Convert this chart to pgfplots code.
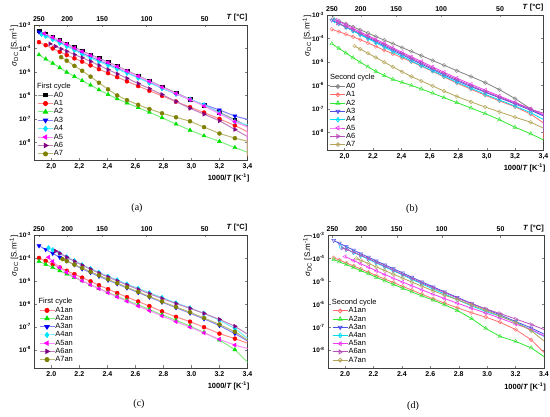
\documentclass[border=0pt]{standalone}
\usepackage{pgfplots}
\pgfplotsset{compat=1.18}
\usepackage{pgfplotstable}
\usepackage{fontspec}
\setmainfont{Liberation Sans}
\newfontfamily\capfont{Liberation Serif}

\definecolor{cRed}{RGB}{255,0,0}
\definecolor{cGreen}{RGB}{0,225,0}
\definecolor{cBlue}{RGB}{0,0,255}
\definecolor{cCyan}{RGB}{0,228,255}
\definecolor{cMag}{RGB}{255,0,255}
\definecolor{cPur}{RGB}{128,0,128}
\definecolor{cOli}{RGB}{128,128,0}
\definecolor{oGray}{RGB}{130,130,130}
\definecolor{oRed}{RGB}{255,110,110}
\definecolor{oGreen}{RGB}{50,230,50}
\definecolor{oBlue}{RGB}{80,80,230}
\definecolor{oCyan}{RGB}{0,220,240}
\definecolor{oMag}{RGB}{240,60,240}
\definecolor{oPur}{RGB}{185,80,185}
\definecolor{oOli}{RGB}{180,165,90}

\pgfplotsset{
  lA0/.style={color=black!40, line width=1pt},
  lA1/.style={color=cRed!45, line width=1pt},
  lA2/.style={color=cGreen!50, line width=1pt},
  lA3/.style={color=cBlue!50, line width=1pt},
  lA4/.style={color=cCyan!55, line width=1pt},
  lA5/.style={color=cMag!45, line width=1pt},
  lA6/.style={color=cPur!50, line width=1pt},
  lA7/.style={color=cOli!55, line width=1pt},
  mA0/.style={mark=square*, mark size=1.8pt, mark options={solid, draw=black, fill=black}},
  mA1/.style={mark=*, mark size=2pt, mark options={solid, draw=cRed, fill=cRed}},
  mA2/.style={mark=triangle*, mark size=2.3pt, mark options={solid, draw=cGreen, fill=cGreen}},
  mA3/.style={mark=triangle*, mark size=2.3pt, mark options={solid, draw=cBlue, fill=cBlue, rotate=180}},
  mA4/.style={mark=diamond*, mark size=2.4pt, mark options={solid, draw=cCyan, fill=cCyan}},
  mA5/.style={mark=triangle*, mark size=2.3pt, mark options={solid, draw=cMag, fill=cMag, rotate=90}},
  mA6/.style={mark=triangle*, mark size=2.3pt, mark options={solid, draw=cPur, fill=cPur, rotate=-90}},
  mA7/.style={mark=*, mark size=2pt, mark options={solid, draw=cOli, fill=cOli}},
  lB0/.style={color=oGray, line width=0.8pt},
  lB1/.style={color=oRed, line width=0.8pt},
  lB2/.style={color=oGreen, line width=0.8pt},
  lB3/.style={color=oBlue, line width=0.8pt},
  lB4/.style={color=oCyan, line width=0.8pt},
  lB5/.style={color=oMag, line width=0.8pt},
  lB6/.style={color=oPur, line width=0.8pt},
  lB7/.style={color=oOli, line width=0.8pt},
  mB0/.style={mark=o, mark size=1.9pt, mark options={solid, draw=oGray, fill=white}},
  mB1/.style={mark=o, mark size=1.9pt, mark options={solid, draw=oRed, fill=white}},
  mB2/.style={mark=triangle, mark size=2.2pt, mark options={solid, draw=oGreen, fill=white}},
  mB3/.style={mark=triangle, mark size=2.2pt, mark options={solid, draw=oBlue, fill=white, rotate=180}},
  mB4/.style={mark=diamond, mark size=2.3pt, mark options={solid, draw=oCyan, fill=white}},
  mB5/.style={mark=triangle, mark size=2.2pt, mark options={solid, draw=oMag, fill=white, rotate=90}},
  mB6/.style={mark=triangle, mark size=2.2pt, mark options={solid, draw=oPur, fill=white, rotate=-90}},
  mB7/.style={mark=o, mark size=1.9pt, mark options={solid, draw=oOli, fill=white}},
  mainax/.style={
    scale only axis, xmin=1.88, xmax=3.4, ymax=-3,
    clip mode=individual,
    axis line style={line width=0.5pt, black!75},
    tick align=inside, major tick length=2.5pt,
    xtick={2.0,2.2,2.4,2.6,2.8,3.0,3.2,3.4},
    xtick pos=lower,
    ytick={-8,-7,-6,-5,-4,-3}, ytick pos=both, yticklabel pos=left,
    yticklabels={10\textsuperscript{-8},10\textsuperscript{-7},10\textsuperscript{-6},10\textsuperscript{-5},10\textsuperscript{-4},10\textsuperscript{-3}},
    xticklabel style={font=\bfseries\fontsize{7}{8}\selectfont},
    yticklabel style={font=\bfseries\fontsize{6.5}{7}\selectfont},
    legend image code/.code={\draw[mark repeat=2,mark phase=2,##1] plot coordinates {(0pt,0pt) (7.5pt,0pt) (15pt,0pt)};},
    legend cell align=left,
  },
  topax/.style={
    scale only axis, xmin=1.88, xmax=3.4, ymin=0, ymax=1,
    clip=false,
    axis x line*=top, axis y line=none,
    axis line style={line width=0.5pt, black!75},
    xtick={1.9115,2.1134,2.3629,2.6799,3.0945},
    xticklabels={250,200,150,100,50},
    tick align=inside, major tick length=2.5pt,
    xticklabel style={font=\bfseries\fontsize{7}{8}\selectfont},
  },
}

\newcommand{\ser}[3]{%
  \addplot[l#2, forget plot] table {#1};
  \addplot[only marks, m#3, restrict x to domain=1.8:3.36, forget plot] table {#1};
}
\newcommand{\xlab}{\node[anchor=north east, inner sep=0pt, font=\bfseries\fontsize{7.5}{8}\selectfont] at ([yshift=-14pt, xshift=2pt]rel axis cs:1,0) {1000/\textit{T} [K\textsuperscript{-1}]};}
\newcommand{\ylab}{\node[rotate=90, anchor=south east, inner sep=0pt, font=\fontsize{8}{9}\selectfont] at ([xshift=-16pt]rel axis cs:0,1) {\textit{σ}\textsubscript{DC} [S.m\textsuperscript{-1}]};}
\newcommand{\tlab}{\node[anchor=south east, inner sep=0pt, font=\bfseries\fontsize{7.5}{8}\selectfont] at ([yshift=3.5pt]rel axis cs:1,1) {\textit{T} [°C]};}

% ---------------- panel (a): first cycle
\pgfplotstableread{
x y
1.912 -3.25
1.96 -3.38
2.01 -3.52
2.06 -3.66
2.11 -3.80
2.165 -3.95
2.22 -4.10
2.28 -4.26
2.34 -4.41
2.405 -4.58
2.47 -4.75
2.54 -4.94
2.62 -5.16
2.70 -5.38
2.79 -5.62
2.89 -5.89
2.99 -6.16
3.09 -6.42
3.20 -6.72
3.31 -7.03
3.40 -7.30
}\paA
\pgfplotstableread{
x y
1.912 -3.73
1.96 -3.86
2.01 -4.00
2.06 -4.14
2.11 -4.28
2.165 -4.42
2.22 -4.56
2.28 -4.72
2.34 -4.88
2.405 -5.05
2.47 -5.22
2.54 -5.40
2.62 -5.60
2.70 -5.80
2.79 -6.02
2.89 -6.26
2.99 -6.50
3.09 -6.73
3.20 -7.00
3.31 -7.28
3.40 -7.55
3.40 -8.60
}\paB
\pgfplotstableread{
x y
1.912 -4.27
1.96 -4.45
2.01 -4.63
2.06 -4.82
2.11 -5.01
2.165 -5.19
2.22 -5.37
2.28 -5.56
2.34 -5.76
2.405 -5.96
2.47 -6.14
2.54 -6.32
2.62 -6.52
2.70 -6.72
2.79 -6.95
2.89 -7.22
2.99 -7.48
3.09 -7.72
3.20 -7.96
3.31 -8.22
3.40 -8.42
}\paC
\pgfplotstableread{
x y
1.912 -3.30
1.96 -3.44
2.01 -3.59
2.06 -3.74
2.11 -3.88
2.165 -4.04
2.22 -4.20
2.28 -4.36
2.34 -4.51
2.405 -4.68
2.47 -4.84
2.54 -5.03
2.62 -5.24
2.70 -5.45
2.79 -5.69
2.89 -5.94
2.99 -6.18
3.09 -6.39
3.20 -6.62
3.31 -6.88
3.40 -7.02
}\paD
\pgfplotstableread{
x y
1.93 -3.40
1.96 -3.48
2.01 -3.62
2.06 -3.77
2.11 -3.91
2.165 -4.07
2.22 -4.25
2.28 -4.41
2.34 -4.56
2.405 -4.72
2.47 -4.88
2.54 -5.05
2.62 -5.26
2.70 -5.47
2.79 -5.70
2.89 -5.94
2.99 -6.16
3.09 -6.40
3.20 -6.75
3.31 -7.12
3.40 -7.25
}\paE
\pgfplotstableread{
x y
1.95 -3.36
2.01 -3.53
2.06 -3.67
2.11 -3.82
2.165 -3.98
2.22 -4.13
2.28 -4.29
2.34 -4.44
2.405 -4.60
2.47 -4.77
2.54 -4.96
2.62 -5.18
2.70 -5.40
2.79 -5.65
2.89 -5.92
2.99 -6.18
3.09 -6.45
3.20 -6.78
3.31 -7.12
3.40 -7.35
3.40 -7.90
}\paF
\pgfplotstableread{
x y
1.99 -3.80
2.03 -3.91
2.07 -4.02
2.11 -4.12
2.165 -4.26
2.22 -4.39
2.28 -4.55
2.34 -4.72
2.405 -4.90
2.47 -5.08
2.54 -5.27
2.62 -5.49
2.70 -5.71
2.79 -5.96
2.89 -6.26
2.99 -6.55
3.09 -6.80
3.20 -7.08
3.31 -7.45
3.40 -7.75
3.40 -8.45
}\paG
\pgfplotstableread{
x y
2.07 -4.37
2.11 -4.52
2.165 -4.74
2.22 -4.95
2.28 -5.20
2.34 -5.46
2.405 -5.74
2.47 -6.00
2.54 -6.20
2.62 -6.40
2.70 -6.58
2.79 -6.76
2.89 -6.93
2.99 -7.10
3.09 -7.35
3.20 -7.62
3.31 -7.82
3.40 -7.95
3.40 -8.55
}\paH

% ---------------- panel (b): second cycle
\pgfplotstableread{
x y
1.92 -3.15
1.96 -3.25
2.01 -3.38
2.06 -3.51
2.11 -3.63
2.165 -3.77
2.22 -3.92
2.28 -4.07
2.34 -4.22
2.405 -4.39
2.47 -4.55
2.54 -4.73
2.62 -4.94
2.70 -5.14
2.79 -5.37
2.89 -5.62
2.99 -5.88
3.09 -6.18
3.20 -6.56
3.31 -7.00
3.40 -7.30
}\pbA
\pgfplotstableread{
x y
1.91 -3.61
1.96 -3.71
2.01 -3.82
2.06 -3.93
2.11 -4.05
2.165 -4.19
2.22 -4.34
2.28 -4.50
2.34 -4.65
2.405 -4.82
2.47 -4.99
2.54 -5.18
2.62 -5.40
2.70 -5.64
2.79 -5.90
2.89 -6.16
2.99 -6.42
3.09 -6.66
3.20 -6.91
3.31 -7.22
3.40 -7.60
3.40 -8.30
}\pbB
\pgfplotstableread{
x y
1.91 -4.22
1.96 -4.42
2.01 -4.62
2.06 -4.82
2.11 -5.01
2.165 -5.21
2.22 -5.40
2.28 -5.58
2.34 -5.74
2.405 -5.87
2.47 -6.00
2.54 -6.15
2.62 -6.33
2.70 -6.52
2.79 -6.73
2.89 -6.96
2.99 -7.20
3.09 -7.46
3.20 -7.78
3.31 -8.06
3.40 -8.32
}\pbC
\pgfplotstableread{
x y
1.91 -3.22
1.96 -3.37
2.01 -3.52
2.06 -3.67
2.11 -3.82
2.165 -3.98
2.22 -4.14
2.28 -4.32
2.34 -4.50
2.405 -4.69
2.47 -4.89
2.54 -5.09
2.62 -5.32
2.70 -5.55
2.79 -5.80
2.89 -6.05
2.99 -6.29
3.09 -6.53
3.20 -6.79
3.31 -7.06
3.40 -7.30
3.40 -7.95
}\pbD
\pgfplotstableread{
x y
1.93 -3.24
1.96 -3.35
2.01 -3.52
2.06 -3.68
2.11 -3.84
2.165 -4.01
2.22 -4.18
2.28 -4.37
2.34 -4.56
2.405 -4.76
2.47 -4.96
2.54 -5.16
2.62 -5.38
2.70 -5.61
2.79 -5.86
2.89 -6.12
2.99 -6.38
3.09 -6.62
3.20 -6.88
3.31 -7.16
3.40 -7.45
}\pbE
\pgfplotstableread{
x y
1.94 -3.22
1.96 -3.28
2.01 -3.42
2.06 -3.57
2.11 -3.72
2.165 -3.88
2.22 -4.04
2.28 -4.21
2.34 -4.40
2.405 -4.59
2.47 -4.78
2.54 -4.98
2.62 -5.21
2.70 -5.44
2.79 -5.69
2.89 -5.95
2.99 -6.20
3.09 -6.45
3.20 -6.72
3.31 -7.00
3.40 -7.25
}\pbF
\pgfplotstableread{
x y
1.95 -3.35
2.01 -3.50
2.06 -3.64
2.11 -3.78
2.165 -3.93
2.22 -4.09
2.28 -4.27
2.34 -4.45
2.405 -4.64
2.47 -4.84
2.54 -5.04
2.62 -5.27
2.70 -5.50
2.79 -5.75
2.89 -6.01
2.99 -6.26
3.09 -6.50
3.20 -6.75
3.31 -7.02
3.40 -7.18
3.40 -7.85
}\pbG
\pgfplotstableread{
x y
2.07 -4.32
2.11 -4.45
2.165 -4.63
2.22 -4.81
2.28 -5.01
2.34 -5.21
2.405 -5.42
2.47 -5.62
2.54 -5.81
2.62 -6.02
2.70 -6.24
2.79 -6.47
2.89 -6.70
2.99 -6.92
3.09 -7.13
3.20 -7.35
3.31 -7.57
3.40 -7.82
}\pbH

% ---------------- panel (c): first cycle, annealed
\pgfplotstableread{
x y
1.912 -4.00
1.96 -4.13
2.01 -4.28
2.06 -4.42
2.11 -4.56
2.165 -4.71
2.22 -4.86
2.28 -5.02
2.34 -5.19
2.405 -5.36
2.47 -5.53
2.54 -5.71
2.62 -5.90
2.70 -6.10
2.79 -6.33
2.89 -6.57
2.99 -6.78
3.09 -7.02
3.20 -7.30
3.31 -7.52
3.40 -7.72
}\pcB
\pgfplotstableread{
x y
1.912 -4.15
1.96 -4.28
2.01 -4.42
2.06 -4.56
2.11 -4.70
2.165 -4.85
2.22 -5.00
2.28 -5.17
2.34 -5.33
2.405 -5.51
2.47 -5.67
2.54 -5.85
2.62 -6.05
2.70 -6.25
2.79 -6.48
2.89 -6.72
2.99 -6.97
3.09 -7.25
3.20 -7.58
3.31 -8.00
3.40 -8.55
}\pcC
\pgfplotstableread{
x y
1.912 -3.47
1.96 -3.63
2.01 -3.80
2.06 -3.97
2.11 -4.13
2.165 -4.30
2.22 -4.48
2.28 -4.64
2.34 -4.80
2.405 -4.97
2.47 -5.13
2.54 -5.31
2.62 -5.51
2.70 -5.71
2.79 -5.93
2.89 -6.17
2.99 -6.41
3.09 -6.66
3.20 -6.95
3.31 -7.30
3.40 -7.62
}\pcD
\pgfplotstableread{
x y
1.98 -3.56
2.01 -3.65
2.06 -3.80
2.11 -3.95
2.165 -4.12
2.22 -4.30
2.28 -4.47
2.34 -4.63
2.405 -4.80
2.47 -4.96
2.54 -5.14
2.62 -5.33
2.70 -5.52
2.79 -5.73
2.89 -5.96
2.99 -6.18
3.09 -6.42
3.20 -6.72
3.31 -7.08
3.40 -7.50
}\pcE
\pgfplotstableread{
x y
1.98 -3.97
2.01 -4.15
2.06 -4.42
2.11 -4.63
2.165 -4.82
2.22 -5.00
2.28 -5.17
2.34 -5.34
2.405 -5.52
2.47 -5.70
2.54 -5.89
2.62 -6.10
2.70 -6.30
2.79 -6.53
2.89 -6.78
2.99 -7.02
3.09 -7.27
3.20 -7.55
3.31 -7.80
3.40 -7.95
}\pcF
\pgfplotstableread{
x y
2.03 -3.70
2.06 -3.80
2.11 -3.97
2.165 -4.15
2.22 -4.32
2.28 -4.49
2.34 -4.66
2.405 -4.83
2.47 -5.00
2.54 -5.18
2.62 -5.37
2.70 -5.56
2.79 -5.77
2.89 -5.99
2.99 -6.20
3.09 -6.42
3.20 -6.68
3.31 -6.98
3.40 -7.33
}\pcG
\pgfplotstableread{
x y
2.08 -4.05
2.11 -4.14
2.165 -4.29
2.22 -4.44
2.28 -4.60
2.34 -4.76
2.405 -4.93
2.47 -5.10
2.54 -5.28
2.62 -5.48
2.70 -5.68
2.79 -5.90
2.89 -6.14
2.99 -6.37
3.09 -6.62
3.20 -6.90
3.31 -7.22
3.40 -7.58
}\pcH

% ---------------- panel (d): second cycle, annealed
\pgfplotstableread{
x y
1.92 -3.97
1.96 -4.07
2.01 -4.20
2.06 -4.33
2.11 -4.46
2.165 -4.60
2.22 -4.75
2.28 -4.90
2.34 -5.05
2.405 -5.22
2.47 -5.38
2.54 -5.56
2.62 -5.76
2.70 -5.95
2.79 -6.15
2.89 -6.37
2.99 -6.56
3.09 -6.78
3.20 -7.10
3.31 -7.55
3.40 -8.10
}\pdB
\pgfplotstableread{
x y
1.92 -4.05
1.96 -4.15
2.01 -4.27
2.06 -4.40
2.11 -4.53
2.165 -4.67
2.22 -4.82
2.28 -4.98
2.34 -5.13
2.405 -5.30
2.47 -5.46
2.54 -5.63
2.62 -5.82
2.70 -6.02
2.79 -6.27
2.89 -6.62
2.99 -7.05
3.09 -7.40
3.20 -7.62
3.31 -7.90
3.40 -8.28
}\pdC
\pgfplotstableread{
x y
1.92 -3.22
1.96 -3.34
2.01 -3.49
2.06 -3.64
2.11 -3.79
2.165 -3.95
2.22 -4.11
2.28 -4.28
2.34 -4.45
2.405 -4.63
2.47 -4.82
2.54 -5.02
2.62 -5.24
2.70 -5.46
2.79 -5.70
2.89 -5.96
2.99 -6.21
3.09 -6.46
3.20 -6.75
3.31 -7.03
3.40 -7.30
}\pdD
\pgfplotstableread{
x y
1.97 -3.50
2.01 -3.60
2.06 -3.74
2.11 -3.88
2.165 -4.04
2.22 -4.20
2.28 -4.37
2.34 -4.54
2.405 -4.72
2.47 -4.91
2.54 -5.11
2.62 -5.33
2.70 -5.55
2.79 -5.80
2.89 -6.07
2.99 -6.31
3.09 -6.52
3.20 -6.78
3.31 -7.12
3.40 -7.40
}\pdE
\pgfplotstableread{
x y
2.00 -3.92
2.06 -4.09
2.11 -4.23
2.165 -4.38
2.22 -4.54
2.28 -4.70
2.34 -4.86
2.405 -5.03
2.47 -5.19
2.54 -5.37
2.62 -5.56
2.70 -5.75
2.79 -5.95
2.89 -6.17
2.99 -6.38
3.09 -6.60
3.20 -6.86
3.31 -7.10
3.40 -7.38
}\pdF
\pgfplotstableread{
x y
1.98 -3.55
2.01 -3.61
2.06 -3.73
2.11 -3.86
2.165 -4.01
2.22 -4.17
2.28 -4.34
2.34 -4.51
2.405 -4.69
2.47 -4.87
2.54 -5.07
2.62 -5.28
2.70 -5.49
2.79 -5.73
2.89 -5.98
2.99 -6.20
3.09 -6.40
3.20 -6.64
3.31 -6.88
3.40 -7.10
}\pdG
\pgfplotstableread{
x y
2.08 -4.00
2.11 -4.08
2.165 -4.22
2.22 -4.37
2.28 -4.53
2.34 -4.69
2.405 -4.86
2.47 -5.03
2.54 -5.21
2.62 -5.41
2.70 -5.60
2.79 -5.80
2.89 -6.03
2.99 -6.26
3.09 -6.51
3.20 -6.79
3.31 -7.15
3.40 -7.60
}\pdH

\begin{document}
\begin{tikzpicture}
\useasboundingbox (0,0) rectangle (550pt,-417pt);

% ===== (a)
\begin{axis}[mainax, at={(34.5pt,-25pt)}, anchor=north west, width=213pt, height=135pt, ymin=-8.75,
  xticklabels={{2,0},{2,2},{2,4},{2,6},{2,8},{3,0},{3,2},{3,4}},
  legend style={name=legA, at={(rel axis cs:0,0)}, anchor=south west, xshift=3pt, yshift=2.5pt, draw=none, fill=none, inner sep=0pt, outer sep=0pt, row sep=1.2pt, font=\fontsize{7.5}{8}\selectfont, nodes={inner sep=0.4pt, text height=5.2pt, text depth=1.2pt}, /tikz/every even column/.append style={column sep=3pt}}]
\ser{\paA}{A0}{A0}
\ser{\paB}{A1}{A1}
\ser{\paC}{A2}{A2}
\ser{\paD}{A3}{A3}
\ser{\paE}{A4}{A4}
\ser{\paF}{A5}{A5}
\ser{\paG}{A6}{A6}
\ser{\paH}{A7}{A7}
\addlegendimage{lA0,mA0}\addlegendentry{A0}
\addlegendimage{lA1,mA1}\addlegendentry{A1}
\addlegendimage{lA2,mA2}\addlegendentry{A2}
\addlegendimage{lA3,mA3}\addlegendentry{A3}
\addlegendimage{lA4,mA4}\addlegendentry{A4}
\addlegendimage{lA5,mA5}\addlegendentry{A5}
\addlegendimage{lA6,mA6}\addlegendentry{A6}
\addlegendimage{lA7,mA7}\addlegendentry{A7}
\xlab \ylab
\end{axis}
\begin{axis}[topax, at={(34.5pt,-25pt)}, anchor=north west, width=213pt, height=135pt]
\addplot[draw=none] coordinates {(2,0.5)};
\tlab
\end{axis}
\node[anchor=south west, inner sep=0.4pt, font=\fontsize{7.5}{8}\selectfont] at ([xshift=-1pt,yshift=1pt]legA.north west) {First cycle};

% ===== (b)
\begin{axis}[mainax, at={(327.5pt,-15pt)}, anchor=north west, width=216pt, height=135pt, ymin=-8.75,
  xticklabels={{2,0},{2,2},{2,4},{2,6},{2,8},{3,0},{3,2},{3,4}},
  legend style={name=legB, at={(rel axis cs:0,0)}, anchor=south west, xshift=2.5pt, yshift=1.8pt, draw=none, fill=none, inner sep=0pt, outer sep=0pt, row sep=1.1pt, font=\fontsize{7.5}{8}\selectfont, nodes={inner sep=0.4pt, text height=5.2pt, text depth=1.2pt}, /tikz/every even column/.append style={column sep=2pt}}]
\ser{\pbA}{B0}{B0}
\ser{\pbB}{B1}{B1}
\ser{\pbC}{B2}{B2}
\ser{\pbD}{B3}{B3}
\ser{\pbE}{B4}{B4}
\ser{\pbF}{B5}{B5}
\ser{\pbG}{B6}{B6}
\ser{\pbH}{B7}{B7}
\addlegendimage{lB0,mB0}\addlegendentry{A0}
\addlegendimage{lB1,mB1}\addlegendentry{A1}
\addlegendimage{lB2,mB2}\addlegendentry{A2}
\addlegendimage{lB3,mB3}\addlegendentry{A3}
\addlegendimage{lB4,mB4}\addlegendentry{A4}
\addlegendimage{lB5,mB5}\addlegendentry{A5}
\addlegendimage{lB6,mB6}\addlegendentry{A6}
\addlegendimage{lB7,mB7}\addlegendentry{A7}
\xlab \ylab
\end{axis}
\begin{axis}[topax, at={(327.5pt,-15pt)}, anchor=north west, width=216pt, height=135pt]
\addplot[draw=none] coordinates {(2,0.5)};
\tlab
\end{axis}
\node[anchor=south west, inner sep=0.4pt, font=\fontsize{7.5}{8}\selectfont] at ([xshift=-0.5pt,yshift=1pt]legB.north west) {Second cycle};

% ===== (c)
\begin{axis}[mainax, at={(34.5pt,-235pt)}, anchor=north west, width=213pt, height=133pt, ymin=-8.8,
  xticklabels={2.0,2.2,2.4,2.6,2.8,3.0,3.2,3.4},
  legend style={name=legC, at={(rel axis cs:0,0)}, anchor=south west, xshift=4.5pt, yshift=4.8pt, draw=none, fill=none, inner sep=0pt, outer sep=0pt, row sep=1pt, font=\fontsize{7.5}{8}\selectfont, nodes={inner sep=0.4pt, text height=5.2pt, text depth=1.2pt}, /tikz/every even column/.append style={column sep=3pt}}]
\ser{\pcB}{A1}{A1}
\ser{\pcC}{A2}{A2}
\ser{\pcD}{A3}{A3}
\ser{\pcE}{A4}{A4}
\ser{\pcF}{A5}{A5}
\ser{\pcG}{A6}{A6}
\ser{\pcH}{A7}{A7}
\addlegendimage{lA1,mA1}\addlegendentry{A1an}
\addlegendimage{lA2,mA2}\addlegendentry{A2an}
\addlegendimage{lA3,mA3}\addlegendentry{A3an}
\addlegendimage{lA4,mA4}\addlegendentry{A4an}
\addlegendimage{lA5,mA5}\addlegendentry{A5an}
\addlegendimage{lA6,mA6}\addlegendentry{A6an}
\addlegendimage{lA7,mA7}\addlegendentry{A7an}
\xlab \ylab
\end{axis}
\begin{axis}[topax, at={(34.5pt,-235pt)}, anchor=north west, width=213pt, height=133pt]
\addplot[draw=none] coordinates {(2,0.5)};
\tlab
\end{axis}
\node[anchor=south west, inner sep=0.4pt, font=\fontsize{7.5}{8}\selectfont] at ([xshift=-1pt,yshift=1pt]legC.north west) {First cycle};

% ===== (d)
\begin{axis}[mainax, at={(328pt,-235.5pt)}, anchor=north west, width=216pt, height=133pt, ymin=-8.8,
  xticklabels={2.0,2.2,2.4,2.6,2.8,3.0,3.2,3.4},
  legend style={name=legD, at={(rel axis cs:0,0)}, anchor=south west, xshift=4.3pt, yshift=4.8pt, draw=none, fill=none, inner sep=0pt, outer sep=0pt, row sep=1pt, font=\fontsize{7.5}{8}\selectfont, nodes={inner sep=0.4pt, text height=5.2pt, text depth=1.2pt}, /tikz/every even column/.append style={column sep=3pt}}]
\ser{\pdB}{B1}{B1}
\ser{\pdC}{B2}{B2}
\ser{\pdD}{B3}{B3}
\ser{\pdE}{B4}{B4}
\ser{\pdF}{B5}{B5}
\ser{\pdG}{B6}{B6}
\ser{\pdH}{B7}{B7}
\addlegendimage{lB1,mB1}\addlegendentry{A1an}
\addlegendimage{lB2,mB2}\addlegendentry{A2an}
\addlegendimage{lB3,mB3}\addlegendentry{A3an}
\addlegendimage{lB4,mB4}\addlegendentry{A4an}
\addlegendimage{lB5,mB5}\addlegendentry{A5an}
\addlegendimage{lB6,mB6}\addlegendentry{A6an}
\addlegendimage{lB7,mB7}\addlegendentry{A7an}
\xlab \ylab
\end{axis}
\begin{axis}[topax, at={(328pt,-235.5pt)}, anchor=north west, width=216pt, height=133pt]
\addplot[draw=none] coordinates {(2,0.5)};
\tlab
\end{axis}
\node[anchor=south west, inner sep=0.4pt, font=\fontsize{7.5}{8}\selectfont] at ([xshift=-1pt,yshift=1pt]legD.north west) {Second cycle};

% ===== captions
\node[font=\capfont\fontsize{10}{12}\selectfont] at (137pt,-208pt) {(a)};
\node[font=\capfont\fontsize{10}{12}\selectfont] at (412pt,-209pt) {(b)};
\node[font=\capfont\fontsize{10}{12}\selectfont] at (139pt,-404pt) {(c)};
\node[font=\capfont\fontsize{10}{12}\selectfont] at (413pt,-406pt) {(d)};
\end{tikzpicture}
\end{document}
